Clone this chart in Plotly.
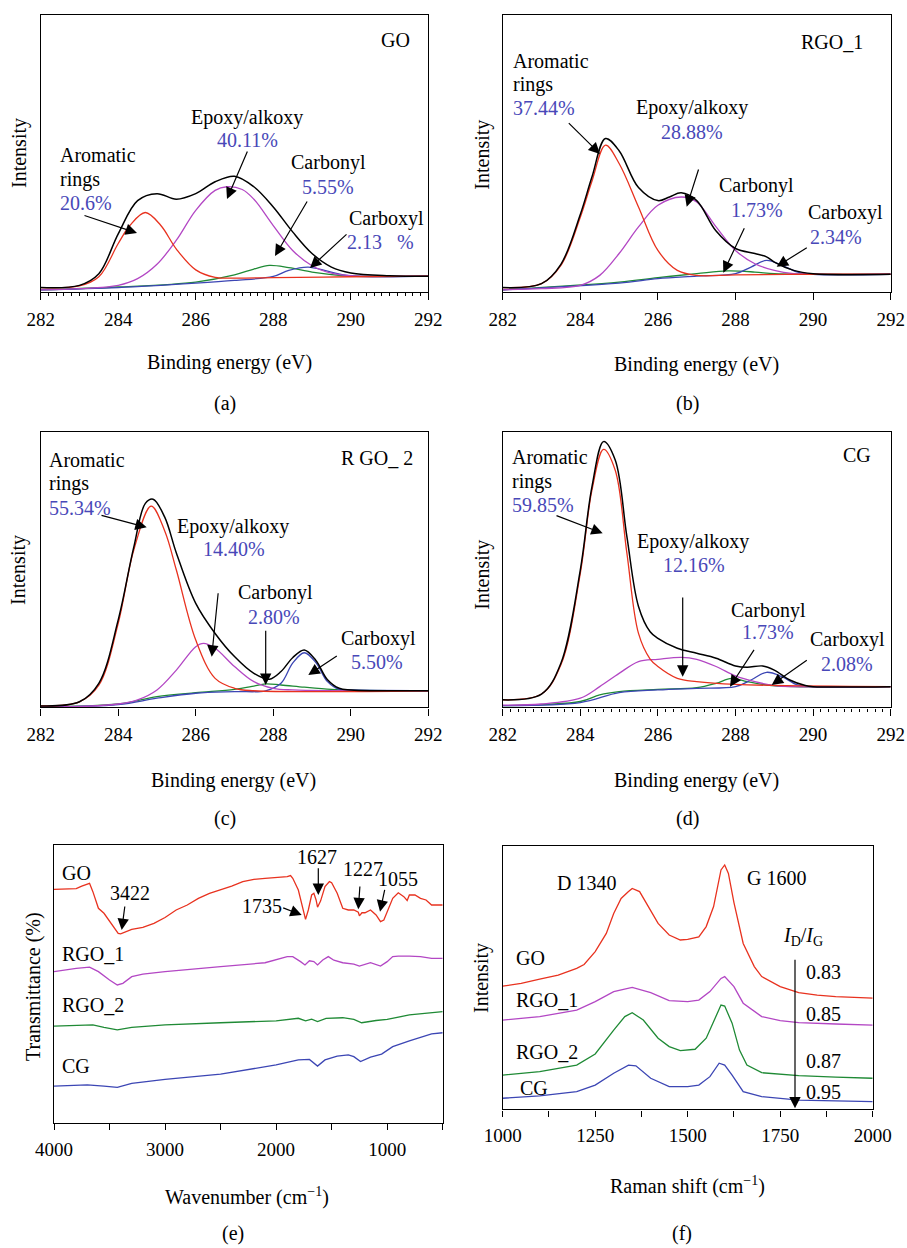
import plotly.graph_objects as go

W, H = 907, 1248
FONT = "Liberation Serif"
RED = "#e8321f"; MAG = "#b347c4"; GRN = "#1f8a35"; BLU = "#3c46b4"; BLK = "#000000"
PCT = "#4848b8"

# ---------------- (a) GO  C1s ----------------
a_tot_e = [282, 283, 283.5, 284, 284.5, 285, 285.5, 286, 286.5, 287, 287.5, 288, 288.5, 289, 289.5, 290, 291, 292]
a_tot = [1.6, 2.4, 6.6, 21, 33, 35.5, 33.5, 35.5, 39.8, 41.8, 38, 30.7, 21.7, 13.9, 9, 6.9, 5.9, 5.7]
a_aro_e = [282, 283, 283.5, 284, 284.3, 284.7, 285.1, 285.5, 286, 286.5, 287, 288, 290, 292]
a_aro = [1.6, 2.2, 5.5, 17.5, 24, 28.7, 24, 15.5, 8, 5.3, 5.0, 5.2, 5.5, 5.7]
a_epo_e = [282, 283, 284, 284.5, 285, 285.5, 286, 286.5, 286.8, 287.2, 287.5, 288, 288.5, 289, 289.5, 290, 291, 292]
a_epo = [0.8, 1.2, 2.4, 4.8, 10, 18.7, 29.5, 36.7, 38, 37, 33.5, 24, 15, 9.5, 6.8, 5.9, 5.7, 5.7]
a_cbn_e = [282, 284, 286, 287, 287.5, 287.9, 288.4, 289, 289.5, 290, 292]
a_cbn = [0.8, 1.8, 3.6, 6.2, 8.3, 9.6, 8.8, 7.2, 6.3, 5.8, 5.7]
a_cbx_e = [282, 284, 286, 287, 288, 288.4, 288.9, 289.4, 290, 292]
a_cbx = [0.8, 1.6, 3.2, 4.2, 5.6, 7.8, 9, 7.5, 5.8, 5.7]

# ---------------- (b) RGO_1 ----------------
b_tot_e = [282, 283, 283.5, 284, 284.3, 284.65, 285, 285.5, 286, 286.3, 286.6, 287, 287.5, 288, 288.5, 288.8, 289, 289.5, 290, 292]
b_tot = [1.6, 3, 10, 28, 41.5, 55.4, 51, 37.7, 33, 34.3, 35.8, 33, 22, 15.7, 13.9, 12.7, 10.8, 7.8, 6.6, 6.4]
b_aro_e = [282, 283, 283.5, 284, 284.3, 284.65, 285, 285.5, 286, 286.5, 287, 288, 290, 292]
b_aro = [1.6, 3, 9.6, 27, 40, 53, 46.4, 30.7, 15, 7.8, 6, 6.2, 6.4, 6.4]
b_epo_e = [282, 283, 284, 284.5, 285, 285.5, 286, 286.6, 287, 287.5, 288, 288.5, 289, 289.5, 290, 292]
b_epo = [0.8, 1.2, 2.4, 6, 13.9, 23.5, 31.3, 34.3, 32.5, 23.5, 15, 10.2, 7.8, 6.6, 6.4, 6.4]
b_cbn_e = [282, 285, 286, 287, 287.8, 288.5, 289, 290, 292]
b_cbn = [0.8, 3.6, 5.2, 6.6, 7.6, 7.2, 6.6, 6.4, 6.4]
b_cbx_e = [282, 285, 286, 287, 288, 288.4, 288.8, 289.2, 289.6, 290, 292]
b_cbx = [0.8, 3.2, 4.8, 5.7, 6.6, 9, 11.4, 9.6, 7.2, 6.4, 6.4]

# ---------------- (c) RGO_2 ----------------
c_tot_e = [282, 283, 283.5, 284, 284.4, 284.7, 284.9, 285.2, 285.5, 286, 286.5, 287, 287.5, 287.9, 288.2, 288.5, 288.8, 289.1, 289.4, 289.7, 290, 292]
c_tot = [0.5, 2, 8.7, 31.7, 58, 74, 75.5, 69, 56, 37.7, 26.8, 18.4, 12.3, 10.2, 13, 18, 20.8, 17, 10, 6.9, 6.3, 6]
c_aro_e = [282, 283, 283.5, 284, 284.4, 284.85, 285.2, 285.5, 286, 286.5, 287, 287.5, 292]
c_aro = [0.5, 2, 8, 30.5, 57, 73, 64, 49.8, 24.4, 10.5, 6.9, 6, 6]
c_epo_e = [282, 283, 284, 284.5, 285, 285.5, 286, 286.2, 286.5, 287, 287.5, 288, 288.5, 292]
c_epo = [0.2, 0.3, 1.2, 2.7, 6.3, 13.5, 22, 23.2, 21.4, 14.8, 9.3, 6.9, 6.3, 6]
c_cbn_e = [282, 284, 285, 286, 287, 287.5, 287.8, 288.2, 288.8, 289.5, 290, 292]
c_cbn = [0.2, 1.2, 3.9, 5.3, 6.5, 7.7, 8.5, 8.1, 7.3, 6.5, 6.2, 6]
c_cbx_e = [282, 284, 285, 286, 287, 287.8, 288.2, 288.5, 288.8, 289.1, 289.4, 289.7, 290, 292]
c_cbx = [0.2, 1, 3.3, 5.1, 5.7, 6, 8.7, 16, 19.8, 16.2, 9.3, 6.5, 6.3, 6]

# ---------------- (d) CG ----------------
d_tot_e = [282, 283, 283.5, 284, 284.3, 284.6, 284.9, 285.2, 285.5, 285.8, 286, 286.5, 287, 287.5, 288, 288.3, 288.7, 289, 289.4, 289.8, 290, 292]
d_tot = [2.7, 4.8, 16, 49.8, 80, 96.4, 89.7, 62, 36.6, 27.4, 25, 21.4, 19.6, 17.8, 15, 14.5, 15, 13.5, 9.9, 7.9, 7.5, 7.5]
d_aro_e = [282, 283, 283.5, 284, 284.3, 284.6, 284.9, 285.2, 285.5, 285.8, 286, 286.5, 287, 288, 292]
d_aro = [2.7, 4.8, 15.4, 48.6, 78.8, 93.6, 86, 56, 26.8, 17.5, 14.8, 10.5, 9.3, 8.3, 7.5]
d_epo_e = [282, 283, 284, 284.5, 285, 285.5, 286, 286.6, 287, 287.5, 288, 288.5, 289, 289.5, 292]
d_epo = [0.8, 1.2, 3.3, 7.5, 12.3, 16.6, 17.4, 18.1, 17.4, 14.8, 11.4, 9.3, 7.9, 7.5, 7.5]
d_cbn_e = [282, 284, 284.5, 285, 286, 287, 287.5, 287.9, 288.3, 288.8, 289.5, 292]
d_cbn = [0.6, 2.1, 4.5, 5.7, 6.5, 7.1, 8.7, 10.5, 9.3, 8.1, 7.5, 7.5]
d_cbx_e = [282, 284, 285, 286, 287, 288, 288.4, 288.8, 289.2, 289.6, 290, 292]
d_cbx = [0.6, 1.7, 5.3, 6.3, 6.9, 7.5, 9.9, 12.7, 11.1, 8.1, 7.5, 7.5]

# ---------------- (e) FTIR ----------------
e_go_w = [4000, 3800, 3750, 3700, 3680, 3650, 3600, 3550, 3500, 3450, 3422, 3400, 3350, 3300, 3200, 3100, 3000, 2900, 2800, 2700,
          2600, 2500, 2400, 2300, 2200, 2100, 2000, 1900, 1870, 1850, 1800, 1760, 1735, 1710, 1680, 1660, 1640, 1627, 1600, 1560,
          1520, 1500, 1450, 1400, 1350, 1300, 1260, 1250, 1227, 1200, 1150, 1100, 1060, 1030, 1000, 950, 900, 850, 820, 800,
          750, 700, 650, 600, 550, 500]
e_go_t = [84, 84.3, 85.2, 86, 86.2, 83.2, 77.2, 75.4, 72.7, 70, 68.2, 68, 68.8, 69.6, 70.3, 71.8, 73.9, 76.6, 78.4, 80.8,
          82.6, 83.8, 85.2, 86.8, 87.6, 88, 88.2, 88.6, 89, 88, 83.8, 77.8, 73.2, 76.6, 82, 82.6, 80.2, 77.6, 79.8, 85,
          86.8, 86.4, 82.6, 77.2, 76.6, 76.6, 75.8, 74.5, 75.6, 75.6, 76.6, 74.8, 72.4, 73, 76, 80.8, 82.8, 81.4, 80, 82,
          82, 80.8, 80.2, 78.4, 78.4, 78.4]
e_r1_w = [4000, 3800, 3680, 3600, 3500, 3430, 3380, 3300, 3200, 3000, 2500, 2100, 1900, 1850, 1780, 1740, 1700, 1660, 1627, 1580,
          1530, 1480, 1400, 1300, 1250, 1200, 1150, 1060, 1000, 950, 900, 800, 700, 600, 500]
e_r1_t = [54.4, 55.6, 56, 54.4, 51.4, 49.6, 50.2, 52.6, 53.5, 54.4, 56.2, 57.6, 59.8, 59.8, 58, 56.8, 58.3, 58, 56.8, 58.6,
          59.8, 58.5, 57.6, 57.1, 56.4, 57, 57.6, 56.4, 58, 59.8, 60, 60, 59.8, 59.2, 59.2]
e_r2_w = [4000, 3650, 3550, 3430, 3300, 3000, 2500, 2000, 1800, 1735, 1680, 1627, 1550, 1400, 1300, 1230, 1100, 1000, 800, 600, 500]
e_r2_t = [34.8, 35.2, 34.3, 33.4, 34.3, 35.2, 36, 36.7, 37.6, 36.7, 37.3, 36.4, 37.6, 37.8, 37.2, 36, 36.8, 37.2, 38.8, 39.6, 40]
e_cg_w = [4000, 3700, 3550, 3430, 3300, 3000, 2500, 2000, 1800, 1700, 1627, 1560, 1450, 1350, 1300, 1240, 1150, 1050, 950, 800, 600, 500]
e_cg_t = [13.2, 13.6, 13.2, 12.7, 14.2, 15.6, 17.5, 20.8, 22.6, 22.8, 20.4, 22.6, 24, 24.4, 23.8, 22, 23.6, 24.7, 27.4, 29.5, 32, 32.4]

# ---------------- (f) Raman ----------------
f_go_r = [1000, 1050, 1100, 1150, 1200, 1220, 1250, 1280, 1300, 1320, 1340, 1350, 1370, 1400, 1420, 1450, 1480, 1500, 1530, 1550,
          1570, 1590, 1600, 1610, 1625, 1650, 1680, 1700, 1750, 1800, 1850, 1900, 1950, 2000]
f_go_i = [46.8, 47.8, 49.4, 51, 53.5, 55, 59.9, 66.8, 74.4, 80.1, 82.7, 83.9, 82.7, 75.7, 70.6, 66.2, 64.3, 64.5, 65.5, 69.4,
          77, 90.9, 92.8, 89.6, 78.5, 63, 54.2, 50.4, 46.6, 44.3, 43.4, 42.8, 42.4, 42.2]
f_r1_r = [1000, 1100, 1200, 1250, 1300, 1350, 1400, 1450, 1500, 1530, 1560, 1590, 1600, 1625, 1650, 1700, 1750, 1800, 1900, 2000]
f_r1_i = [33.9, 35.2, 37.7, 40.9, 44.7, 46.3, 44.3, 41.3, 40.9, 41.5, 44.7, 49.7, 50.4, 46.6, 40.3, 35.2, 33.7, 32.9, 32.4, 32]
f_r2_r = [1000, 1100, 1200, 1250, 1300, 1330, 1350, 1380, 1420, 1450, 1480, 1520, 1550, 1570, 1590, 1600, 1620, 1640, 1660, 1700, 1800, 1900, 2000]
f_r2_i = [13, 14.3, 16.8, 21, 30.1, 35.2, 36.7, 33.9, 27, 23.8, 22.3, 22.8, 27, 33.3, 39.6, 39.2, 32.7, 22.5, 16.8, 13.9, 12.8, 12.2, 11.8]
f_cg_r = [1000, 1100, 1200, 1250, 1300, 1340, 1360, 1400, 1450, 1500, 1530, 1560, 1585, 1600, 1620, 1650, 1700, 1800, 1900, 2000]
f_cg_i = [4.2, 5.1, 6.7, 9.2, 13.7, 16.8, 16.5, 11.8, 8.6, 8.6, 9.2, 12.4, 17.5, 16.8, 13, 6.7, 4.8, 3.5, 3.2, 2.9]

fig = go.Figure()


def add(xs, ys, color, n, width=1.3, shape="spline"):
    sx = "x" if n == 1 else "x%d" % n
    sy = "y" if n == 1 else "y%d" % n
    fig.add_trace(go.Scatter(x=xs, y=ys, mode="lines", xaxis=sx, yaxis=sy,
                             line=dict(color=color, width=width, shape=shape, smoothing=1.0),
                             showlegend=False, hoverinfo="skip"))


xps = [
    (1, a_aro_e, a_aro, a_epo_e, a_epo, a_cbn_e, a_cbn, a_cbx_e, a_cbx, a_tot_e, a_tot),
    (2, b_aro_e, b_aro, b_epo_e, b_epo, b_cbn_e, b_cbn, b_cbx_e, b_cbx, b_tot_e, b_tot),
    (3, c_aro_e, c_aro, c_epo_e, c_epo, c_cbn_e, c_cbn, c_cbx_e, c_cbx, c_tot_e, c_tot),
    (4, d_aro_e, d_aro, d_epo_e, d_epo, d_cbn_e, d_cbn, d_cbx_e, d_cbx, d_tot_e, d_tot),
]
for n, ae, av, ee, ev, ne, nv, xe, xv, te, tv in xps:
    add(ne, nv, GRN, n)
    add(xe, xv, BLU, n)
    add(ee, ev, MAG, n)
    add(ae, av, RED, n)
    add(te, tv, BLK, n, width=1.5)

add(e_go_w, e_go_t, RED, 5, shape="linear")
add(e_r1_w, e_r1_t, MAG, 5, shape="linear")
add(e_r2_w, e_r2_t, GRN, 5, shape="linear")
add(e_cg_w, e_cg_t, BLU, 5, shape="linear")

add(f_go_r, f_go_i, RED, 6, shape="linear")
add(f_r1_r, f_r1_i, MAG, 6, shape="linear")
add(f_r2_r, f_r2_i, GRN, 6, shape="linear")
add(f_cg_r, f_cg_i, BLU, 6, shape="linear")


def xd(p0, p1):
    return [p0 / W, p1 / W]


def yd(top, bottom):
    return [1 - bottom / H, 1 - top / H]


tickfont = dict(family=FONT, size=19, color="black")
common_line = dict(showline=True, linecolor="black", linewidth=1.4, mirror=True,
                   showgrid=False, zeroline=False, automargin=False)
minor_xps_vals = [round(282 + 0.2 * k, 1) for k in range(1, 50) if k % 10 != 0]


def xps_x(dom, n, minor=True):
    d = dict(domain=dom, range=[282, 292], tick0=282, dtick=2, tickmode="linear", ticks="outside", ticklen=7,
             tickwidth=1.2, tickcolor="black", tickfont=tickfont, anchor="y" if n == 1 else "y%d" % n,
             ticklabelstandoff=3, **common_line)
    if minor:
        d["minor"] = dict(tickmode="array", tickvals=minor_xps_vals, ticks="outside", ticklen=3, tickwidth=1,
                          tickcolor="black", showgrid=False)
    return d


def plain_y(dom, n):
    return dict(domain=dom, range=[0, 100], showticklabels=False, ticks="",
                anchor="x" if n == 1 else "x%d" % n, **common_line)


L = dict(width=W, height=H, margin=dict(l=0, r=0, t=0, b=0, pad=0, autoexpand=False), paper_bgcolor="white",
         plot_bgcolor="white", showlegend=False, font=dict(family=FONT, size=19, color="black"))

L["xaxis"] = xps_x(xd(40.7, 428.3), 1)
L["yaxis"] = plain_y(yd(15, 292), 1)
L["xaxis2"] = xps_x(xd(502.7, 890.7), 2, minor=False)
L["yaxis2"] = plain_y(yd(15, 292), 2)
L["xaxis3"] = xps_x(xd(40.7, 428.3), 3, minor=False)
L["yaxis3"] = plain_y(yd(431.7, 707.3), 3)
L["xaxis4"] = xps_x(xd(502.7, 890.7), 4)
L["yaxis4"] = plain_y(yd(431.7, 707.3), 4)
L["xaxis5"] = dict(domain=xd(54, 442.7), range=[4000, 500], tick0=0, dtick=1000, tickmode="linear", ticks="outside", ticklen=6,
                   tickwidth=1.2, tickcolor="black", tickfont=tickfont, anchor="y5", ticklabelstandoff=3,
                   minor=dict(tickmode="linear", dtick=500, tick0=0, ticks="outside", ticklen=6, tickwidth=1.2,
                              tickcolor="black", showgrid=False),
                   **common_line)
L["yaxis5"] = plain_y(yd(845, 1122.7), 5)
L["xaxis6"] = dict(domain=xd(502.7, 872.7), range=[1000, 2000], tick0=1000, dtick=250, tickmode="linear", ticks="outside", ticklen=6,
                   tickwidth=1.2, tickcolor="black", tickfont=tickfont, anchor="y6", ticklabelstandoff=3,
                   minor=dict(tickmode="linear", dtick=125, tick0=1000, ticks="outside", ticklen=6, tickwidth=1.2,
                              tickcolor="black", showgrid=False),
                   **common_line)
L["yaxis6"] = plain_y(yd(846, 1109.3), 6)

fig.update_layout(**L)

ann = []


def T(x, y, s, anchor="center", color="black", size=20, angle=0):
    ann.append(dict(x=x / W, y=1 - y / H, xref="paper", yref="paper", text=s, showarrow=False,
                    xanchor=anchor, yanchor="middle", textangle=angle,
                    font=dict(family=FONT, size=size, color=color)))


def A(x0, y0, x1, y1):
    ann.append(dict(x=x1 / W, y=1 - y1 / H, xref="paper", yref="paper", text="", showarrow=True,
                    ax=x0 - x1, ay=y0 - y1, axref="pixel", ayref="pixel",
                    arrowhead=2, arrowsize=1.9, arrowwidth=1.2, arrowcolor="black", standoff=0))


NB = "\u00a0"
# (a)
T(395, 40, "GO")
T(58, 155, "Aromatic", "left"); T(58, 180, "rings", "left"); T(58, 203, "20.6%", "left", PCT)
A(83, 215, 137, 233)
T(247, 117, "Epoxy/alkoxy"); T(247, 140, "40.11%", color=PCT)
A(248, 150, 227, 199)
T(328, 163, "Carbonyl"); T(328, 187, "5.55%", color=PCT)
A(308, 200, 275, 256)
T(386, 218, "Carboxyl"); T(380, 242, "2.13" + NB * 3 + "%", color=PCT)
A(348, 233, 310, 268)
T(230, 363, "Binding energy (eV)"); T(225, 403, "(a)"); T(19, 153, "Intensity", angle=-90)

# (b)
T(831.7, 42, "RGO_1")
T(510.7, 61, "Aromatic", "left"); T(510.7, 85, "rings", "left"); T(510.7, 108, "37.44%", "left", PCT)
A(567.3, 121.7, 600, 154)
T(691.7, 107, "Epoxy/alkoxy"); T(692, 132, "28.88%", color=PCT)
A(699, 168, 686.7, 206.7)
T(756.7, 185, "Carbonyl"); T(756.7, 210, "1.73%", color=PCT)
A(745, 226.7, 723.3, 272.7)
T(845, 212, "Carboxyl"); T(836, 236.7, "2.34%", color=PCT)
A(808.3, 246.7, 776.7, 266.7)
T(696.7, 365, "Binding energy (eV)"); T(687.3, 403, "(b)"); T(481.7, 155, "Intensity", angle=-90)

# (c)
T(376.7, 458.3, "R GO_ 2")
T(46.7, 460, "Aromatic", "left"); T(46.7, 483.3, "rings", "left"); T(46.7, 507.7, "55.34%", "left", PCT)
A(100, 515, 146.7, 527.3)
T(233.3, 526, "Epoxy/alkoxy"); T(234, 549.3, "14.40%", color=PCT)
A(218.3, 591.7, 211.7, 656.7)
T(275, 592.7, "Carbonyl"); T(274, 616.7, "2.80%", color=PCT)
A(265.7, 629.3, 265.7, 685)
T(378.3, 638.3, "Carboxyl"); T(377.3, 661.7, "5.50%", color=PCT)
A(338.3, 655, 308.3, 675)
T(233.3, 780, "Binding energy (eV)"); T(225, 818, "(c)"); T(19, 570, "Intensity", angle=-90)

# (d)
T(857.3, 455, "CG")
T(510, 457.3, "Aromatic", "left"); T(510, 481.7, "rings", "left"); T(510, 505, "59.85%", "left", PCT)
A(555, 515, 602.7, 533.3)
T(693.3, 541.7, "Epoxy/alkoxy"); T(694, 565, "12.16%", color=PCT)
A(682.7, 596, 682.7, 676.7)
T(768.3, 610, "Carbonyl"); T(768.3, 632.3, "1.73%", color=PCT)
A(755, 648.3, 730, 686.7)
T(847.3, 639.3, "Carboxyl"); T(847.3, 664, "2.08%", color=PCT)
A(808.3, 659.3, 771.7, 685)
T(696.7, 780, "Binding energy (eV)"); T(687.3, 818, "(d)"); T(481.7, 575, "Intensity", angle=-90)

# (e)
T(60, 872.7, "GO", "left"); T(60, 954, "RGO_1", "left"); T(60, 1005, "RGO_2", "left"); T(60, 1066, "CG", "left")
T(130, 893.3, "3422"); A(125, 905, 121.7, 930)
T(261.7, 906, "1735"); A(281.7, 907.3, 301.7, 915)
T(316.7, 857.3, "1627"); A(318.3, 866.7, 318.3, 895)
T(363.3, 869.3, "1227"); A(360, 885, 358.3, 909.3)
T(398.3, 879.3, "1055"); A(385, 888.3, 380, 911.7)
T(246.7, 1196.7, "Wavenumber (cm<sup>\u2212</sup><sup>1</sup>)"); T(233.3, 1233, "(e)")
T(33.3, 986.7, "Transmittance (%)", angle=-90)

# (f)
T(586, 883.3, "D 1340"); T(776, 877.7, "G 1600")
T(802.7, 936.7, "<i>I</i><sub>D</sub>/<i>I</i><sub>G</sub>")
A(795, 958.3, 795, 1108.3)
T(804, 971.7, "0.83", "left"); T(804, 1014, "0.85", "left"); T(804, 1061, "0.87", "left"); T(804, 1091.7, "0.95", "left")
T(514, 958.3, "GO", "left"); T(514, 1000, "RGO_1", "left"); T(514, 1051.7, "RGO_2", "left"); T(518.3, 1088.3, "CG", "left")
T(687.3, 1185, "Raman shift (cm<sup>\u22121</sup>)"); T(681.7, 1233, "(f)"); T(481.7, 978.3, "Intensity", angle=-90)

fig.update_layout(annotations=ann)
fig.write_html("out.html", config={"displayModeBar": False},
               post_script="document.body.style.margin='0px';")
